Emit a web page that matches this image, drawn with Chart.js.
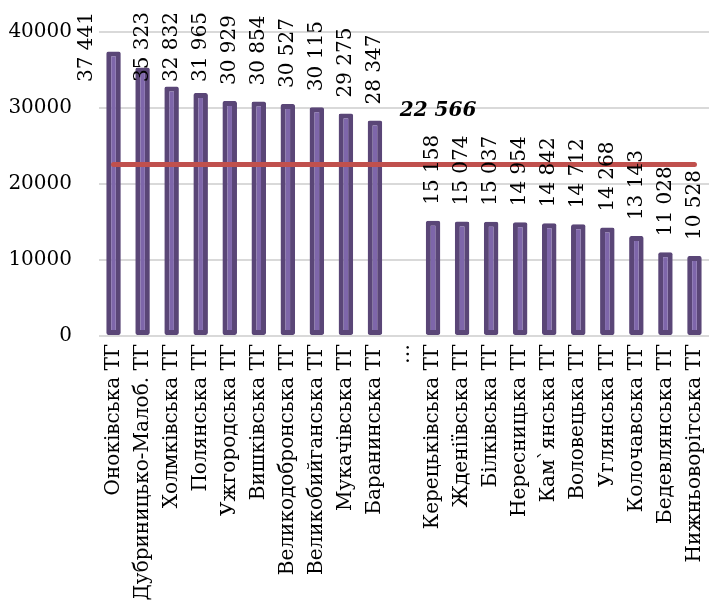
<!DOCTYPE html>
<html>
<head>
<meta charset="utf-8">
<script src="https://cdn.jsdelivr.net/npm/chart.js@4.4.0/dist/chart.umd.min.js"></script>
<style>
  body { margin: 0; background: #fff; }
  #wrap { width: 709px; height: 612px; }
</style>
</head>
<body>
<div id="wrap"><canvas id="chart"></canvas></div>
<script>
// громади (ТГ) і значення
const communities = [
    "Оноківська ТГ", "Дубриницько-Малоб. ТГ", "Холмківська ТГ", "Полянська ТГ", "Ужгородська ТГ",
    "Вишківська ТГ", "Великодобронська ТГ", "Великобийганська ТГ", "Мукачівська ТГ", "Баранинська ТГ",
    "…",
    "Керецьківська ТГ", "Жденіївська ТГ", "Білківська ТГ", "Нересницька ТГ", "Кам`янська ТГ",
    "Воловецька ТГ", "Углянська ТГ", "Колочавська ТГ", "Бедевлянська ТГ", "Нижньоворітська ТГ"
]
const values = [
    37441, 35323, 32832, 31965, 30929, 30854, 30527, 30115, 29275, 28347,
    null,
    15158, 15074, 15037, 14954, 14842, 14712, 14268, 13143, 11028, 10528
]
const averageValue = 22566
const averageLine = [
    { x: "Оноківська ТГ", y: averageValue },
    { x: "Нижньоворітська ТГ", y: averageValue }
]
const yTicks = [0, 10000, 20000, 30000, 40000]

const FONT = "'DejaVu Serif', 'Liberation Serif', serif"

function fmt(v) {
    return String(v).replace(/\B(?=(\d{3})+(?!\d))/g, " ")
}

// підписи над стовпцями + підпис середнього
const labelPlugin = {
    id: "labels",
    afterDraw(chart) {
        let ctx = chart.ctx
        let meta = chart.getDatasetMeta(1)
        ctx.save()
        ctx.font = "20px " + FONT
        ctx.fillStyle = "#000"
        ctx.textAlign = "left"
        ctx.textBaseline = "middle"
        meta.data.forEach((bar, i) => {
            if (values[i] == null) return
            let txt = fmt(values[i])
            let w = ctx.measureText(txt).width
            let bottom = Math.max(bar.y - 16, 12 + w)
            let x = bar.x
            if (bottom > bar.y + 20) x -= 27
            ctx.save()
            ctx.translate(x, bottom)
            ctx.rotate(-Math.PI / 2)
            ctx.fillText(txt, 0, 0)
            ctx.restore()
        })
        // середнє
        let xs = chart.scales.x, ys = chart.scales.y
        ctx.font = "italic bold 20px " + FONT
        ctx.textAlign = "center"
        ctx.fillText(fmt(averageValue), xs.getPixelForValue(11) + 5, ys.getPixelForValue(averageValue) - 54)
        ctx.restore()
    }
}

new Chart(document.getElementById("chart"), {
    data: {
        labels: communities,
        datasets: [{
            type: "line",
            data: averageLine,
            borderColor: "#c0504d",
            borderWidth: 5,
            pointRadius: 0,
            borderCapStyle: "round",
            order: 0
        }, {
            type: "bar",
            data: values,
            backgroundColor: "#7e66aa",
            borderColor: "#5a4677",
            borderWidth: 5,
            borderRadius: 2,
            borderSkipped: false,
            barPercentage: 0.5,
            categoryPercentage: 1,
            order: 1
        }]
    },
    options: {
        responsive: true,
        maintainAspectRatio: false,
        animation: false,
        layout: { autoPadding: false, padding: { top: 32, right: 0, left: 0, bottom: 0 } },
        plugins: { legend: { display: false }, tooltip: { enabled: false } },
        scales: {
            x: {
                grid: { display: false, drawTicks: false },
                border: { display: false },
                ticks: {
                    color: "#000",
                    font: { family: FONT, size: 20 },
                    maxRotation: 90,
                    minRotation: 90,
                    padding: 8,
                    autoSkip: false
                },
                afterFit(scale) {
                    scale.height = 612 - 32 - 304
                    scale.paddingLeft = 0
                    scale.paddingRight = 0
                }
            },
            y: {
                min: 0,
                max: 40000,
                afterBuildTicks(scale) { scale.ticks = yTicks.map(v => ({ value: v })) },
                grid: { color: "#d9d9d9", lineWidth: 2, drawTicks: false },
                border: { display: false },
                ticks: {
                    color: "#000",
                    font: { family: FONT, size: 20 },
                    padding: 27,
                    callback: v => String(v)
                },
                afterFit(scale) {
                    scale.width = 99
                    scale.paddingTop = 0
                    scale.paddingBottom = 0
                }
            }
        }
    },
    plugins: [labelPlugin]
})
</script>
</body>
</html>
